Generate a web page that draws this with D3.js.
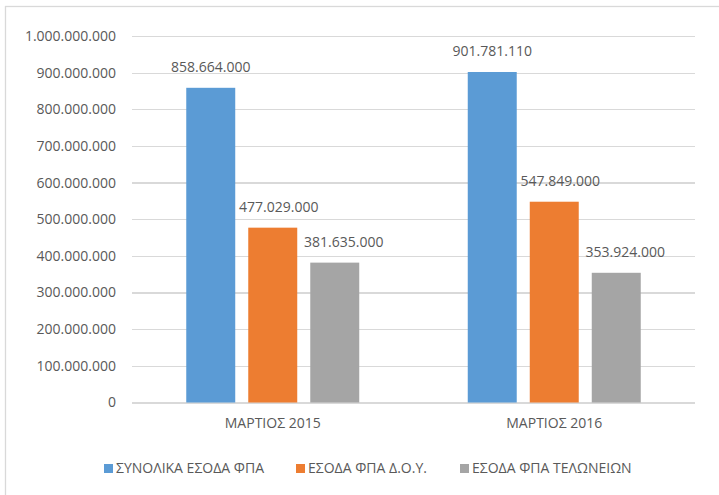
<!DOCTYPE html>
<html lang="el">
<head>
<meta charset="UTF-8">
<title>ΕΣΟΔΑ ΦΠΑ</title>
<script src="https://d3js.org/d3.v7.min.js"></script>
<style>
body { margin: 0; background: #fff; }
svg text { font-family: "Open Sans", sans-serif; fill: #595959; }
.grid line { stroke: #d9d9d9; stroke-width: 1.3; shape-rendering: crispEdges; }
.grid path { display: none; }
</style>
</head>
<body>
<script>
var width = 719, height = 495;

// data
var categories = ["ΜΑΡΤΙΟΣ 2015", "ΜΑΡΤΙΟΣ 2016"];
var seriesNames = ["ΣΥΝΟΛΙΚΑ ΕΣΟΔΑ ΦΠΑ", "ΕΣΟΔΑ ΦΠΑ Δ.Ο.Υ.", "ΕΣΟΔΑ ΦΠΑ ΤΕΛΩΝΕΙΩΝ"];
var totalVat = [858664000, 901781110];
var taxOfficeVat = [477029000, 547849000];
var customsVat = [381635000, 353924000];
var yTicks = [0, 100000000, 200000000, 300000000, 400000000, 500000000,
              600000000, 700000000, 800000000, 900000000, 1000000000];
var colors = ["#5b9bd5", "#ed7d31", "#a5a5a5"];

var seriesValues = [totalVat, taxOfficeVat, customsVat];

var fmt = function(v) {
  return String(Math.round(v)).replace(/\B(?=(\d{3})+(?!\d))/g, ".");
};

var svg = d3.select("body").append("svg")
  .attr("width", width)
  .attr("height", height);

// chart border
svg.append("rect")
  .attr("x", 5.5).attr("y", 6.5)
  .attr("width", 730).attr("height", 510)
  .attr("fill", "#fff")
  .attr("stroke", "#d9d9d9")
  .attr("stroke-width", 1.3);

var plotLeft = 132, plotRight = 695, plotTop = 36, plotBottom = 402.5;

var x0 = d3.scaleBand()
  .domain(categories)
  .range([plotLeft, plotRight])
  .padding(0);

var x1 = d3.scaleBand()
  .domain(d3.range(seriesNames.length))
  .range([0, x0.bandwidth()])
  .paddingInner(0.21)
  .paddingOuter(0.875);

var y = d3.scaleLinear()
  .domain([0, 1000000000])
  .range([plotBottom, plotTop]);

// gridlines
svg.append("g")
  .attr("class", "grid")
  .attr("transform", "translate(" + plotLeft + ",0)")
  .call(d3.axisLeft(y).tickValues(yTicks).tickSize(-(plotRight - plotLeft)).tickFormat(""));

// y labels
svg.append("g")
  .selectAll("text")
  .data(yTicks)
  .enter().append("text")
  .attr("x", 116)
  .attr("y", function(d) { return y(d); })
  .attr("dy", "0.35em")
  .attr("text-anchor", "end")
  .style("font-size", "14px")
  .text(fmt);

// bars
var groups = svg.append("g")
  .selectAll("g")
  .data(categories)
  .enter().append("g")
  .attr("transform", function(d) { return "translate(" + x0(d) + ",0)"; });

var rows = function(d, i) {
  return seriesValues.map(function(s, k) { return {k: k, v: s[i]}; });
};

groups.selectAll("rect")
  .data(rows)
  .enter().append("rect")
  .attr("x", function(d) { return x1(d.k); })
  .attr("y", function(d) { return y(d.v); })
  .attr("width", x1.bandwidth())
  .attr("height", function(d) { return y(0) - y(d.v); })
  .attr("fill", function(d) { return colors[d.k]; });

// value labels, nudged right a little so they clear the taller bar on their left
var nudge = [0, 6, 9];
groups.selectAll("text.val")
  .data(rows)
  .enter().append("text")
  .attr("class", "val")
  .attr("x", function(d) { return x1(d.k) + x1.bandwidth() / 2 + nudge[d.k]; })
  .attr("y", function(d) { return y(d.v) - 16; })
  .attr("text-anchor", "middle")
  .style("font-size", "14px")
  .text(function(d) { return fmt(d.v); });

// category labels
svg.append("g")
  .selectAll("text")
  .data(categories)
  .enter().append("text")
  .attr("x", function(d) { return x0(d) + x0.bandwidth() / 2; })
  .attr("y", 428)
  .attr("text-anchor", "middle")
  .style("font-size", "14px")
  .text(function(d) { return d; });

// legend
var legendX = [104, 296, 460];
var legend = svg.append("g")
  .selectAll("g")
  .data(seriesNames)
  .enter().append("g")
  .attr("transform", function(d, i) { return "translate(" + legendX[i] + ",464)"; });

legend.append("rect")
  .attr("width", 9).attr("height", 9)
  .attr("fill", function(d, i) { return colors[i]; });

legend.append("text")
  .attr("x", 12)
  .attr("y", 4.5)
  .attr("dy", "0.35em")
  .style("font-size", "14px")
  .text(function(d) { return d; });
</script>
</body>
</html>
